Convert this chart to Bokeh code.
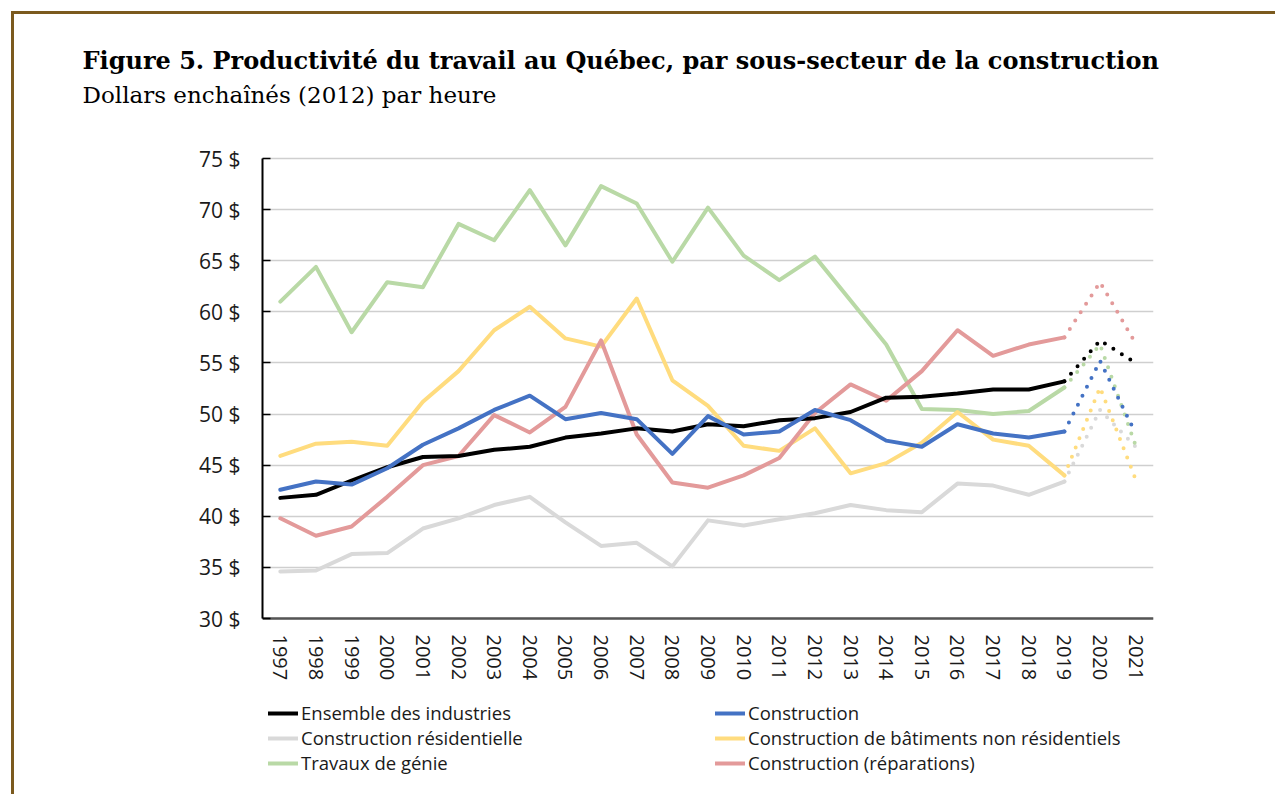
from bokeh.plotting import figure
from bokeh.models import (Range1d, FixedTicker, PrintfTickFormatter, Title,
                          Legend, LegendItem)
from bokeh.embed import file_html
from bokeh.resources import INLINE

# ---------------- data ----------------
years = list(range(1997, 2022))
last_observed = 2019  # solid up to this year, dotted afterwards

ensemble = [41.8, 42.1, 43.5, 44.8, 45.8, 45.9, 46.5, 46.8, 47.7, 48.1, 48.6, 48.3,
            49.0, 48.8, 49.4, 49.6, 50.2, 51.6, 51.7, 52.0, 52.4, 52.4, 53.2, 57.2, 55.0]
construction = [42.6, 43.4, 43.1, 44.7, 47.0, 48.6, 50.4, 51.8, 49.5, 50.1, 49.5, 46.1,
                49.8, 48.0, 48.3, 50.4, 49.4, 47.4, 46.8, 49.0, 48.1, 47.7, 48.3, 55.2, 48.1]
residentielle = [34.6, 34.7, 36.3, 36.4, 38.8, 39.8, 41.1, 41.9, 39.4, 37.1, 37.4, 35.1,
                 39.6, 39.1, 39.7, 40.3, 41.1, 40.6, 40.4, 43.2, 43.0, 42.1, 43.4, 50.4, 46.8]
non_residentiels = [45.9, 47.1, 47.3, 46.9, 51.2, 54.2, 58.2, 60.5, 57.4, 56.6, 61.3, 53.3,
                    50.8, 46.9, 46.4, 48.6, 44.2, 45.2, 47.2, 50.2, 47.5, 46.9, 44.0, 52.6, 43.6]
genie = [61.0, 64.4, 58.0, 62.9, 62.4, 68.6, 67.0, 71.9, 66.5, 72.3, 70.6, 64.9,
         70.2, 65.5, 63.1, 65.4, 61.1, 56.8, 50.5, 50.4, 50.0, 50.3, 52.6, 56.8, 46.9]
reparations = [39.8, 38.1, 39.0, 41.9, 45.0, 45.9, 49.9, 48.2, 50.7, 57.2, 48.0, 43.3,
               42.8, 44.0, 45.7, 50.1, 52.9, 51.3, 54.2, 58.2, 55.7, 56.8, 57.5, 62.9, 56.9]

labels = ["Ensemble des industries", "Construction", "Construction résidentielle",
          "Construction de bâtiments non résidentiels", "Travaux de génie",
          "Construction (réparations)"]
colors = ["#000000", "#4472C4", "#D9D9D9", "#FFDC7E", "#B9D9A6", "#E39A9A"]
values = [ensemble, construction, residentielle, non_residentiels, genie, reparations]

y_min, y_max = 30, 75
y_ticks = [30, 35, 40, 45, 50, 55, 60, 65, 70, 75]

title_text = "Figure 5. Productivité du travail au Québec, par sous-secteur de la construction"
subtitle_text = "Dollars enchaînés (2012) par heure"

# ---------------- layout constants (pixels, canvas coordinates) ----------------
OFFSET = 14                               # canvas shifted right/down, frame line drawn outside
W, H = 1264, 783
LEFT, RIGHT, TOP = 248, 125, 96
BAND_TOP, BAND_BOTTOM = 144, 604          # canvas rows of 75 $ and 30 $
px_per_unit = (BAND_BOTTOM - BAND_TOP) / (y_max - y_min)
y_end = y_max + (BAND_TOP - TOP) / px_per_unit
y_start = y_min - (H - BAND_BOTTOM) / px_per_unit

p = figure(width=W, height=H, output_backend="svg", toolbar_location=None,
           x_range=Range1d(years[0] - 0.5, years[-1] + 0.5),
           y_range=Range1d(y_start, y_end),
           min_border_left=LEFT, min_border_right=RIGHT, min_border_top=TOP,
           min_border_bottom=0)
p.outline_line_color = None
p.background_fill_color = "white"
p.border_fill_color = "white"
brown = "#7B5A1E"
p.styles = {
    "margin-left": f"{OFFSET}px",
    "margin-top": f"{OFFSET}px",
    "box-shadow": f"-3px -3px 0 0 {brown}",
}

# titles
p.title.text = title_text
p.title.text_font = "DejaVu Serif"
p.title.text_font_style = "bold"
p.title.text_font_size = "24px"
p.title.text_color = "black"
p.title.align = "left"
p.title.offset = -180
p.title.standoff = 3
p.add_layout(Title(text=subtitle_text, text_font="DejaVu Serif",
                   text_font_style="normal", text_font_size="23px", align="left",
                   text_color="black", offset=-180, standoff=6), "above")

# axes
yax = p.yaxis[0]
yax.ticker = FixedTicker(ticks=y_ticks)
yax.bounds = (y_min, y_max)
yax.formatter = PrintfTickFormatter(format="%d $")
yax.axis_line_color = "black"
yax.axis_line_width = 2
yax.major_tick_in = 8
yax.major_tick_out = 0
yax.major_tick_line_color = "black"
yax.major_tick_line_width = 1.5
yax.minor_tick_line_color = None
yax.major_label_standoff = 22
yax.major_label_text_font = "Open Sans"
yax.major_label_text_font_size = "21px"
yax.major_label_text_color = "#1a1a1a"

xax = p.xaxis[0]
xax.fixed_location = y_min
xax.ticker = FixedTicker(ticks=years)
xax.major_label_orientation = "vertical"
xax.axis_line_color = "#555555"
xax.axis_line_width = 2.5
xax.major_tick_line_color = None
xax.minor_tick_line_color = None
xax.major_label_standoff = 10
xax.major_label_text_font = "Open Sans"
xax.major_label_text_font_size = "20px"
xax.major_label_text_color = "#1a1a1a"

p.xgrid.grid_line_color = None
p.ygrid.ticker = FixedTicker(ticks=y_ticks)
p.ygrid.grid_line_color = "#CFCFCF"
p.ygrid.grid_line_width = 1.5

# lines
n_solid = years.index(last_observed) + 1
draw_order = [2, 4, 3, 5, 0, 1]
rend = {}
for i in draw_order:
    vals = values[i]
    r = p.line(years[:n_solid], vals[:n_solid], line_color=colors[i], line_width=4,
               line_join="round", line_cap="round")
    p.line(years[n_solid - 1:], vals[n_solid - 1:], line_color=colors[i], line_width=4,
           line_dash="0 10", line_cap="round")
    rend[i] = r


def make_legend(idx, loc):
    lg = Legend(items=[LegendItem(label=labels[i], renderers=[rend[i]]) for i in idx],
                location=loc, orientation="vertical")
    lg.glyph_width = 30
    lg.glyph_height = 20
    lg.label_height = 20
    lg.spacing = 0
    lg.padding = 0
    lg.margin = 0
    lg.label_standoff = 3
    lg.label_text_font = "Open Sans"
    lg.label_text_font_size = "18.5px"
    lg.label_text_color = "#1a1a1a"
    lg.border_line_color = None
    lg.background_fill_alpha = 0
    return lg


p.add_layout(make_legend([0, 2, 4], (6, 22)), "center")
p.add_layout(make_legend([1, 3, 5], (453, 22)), "center")

open("out.html", "w").write(file_html(p, INLINE))
